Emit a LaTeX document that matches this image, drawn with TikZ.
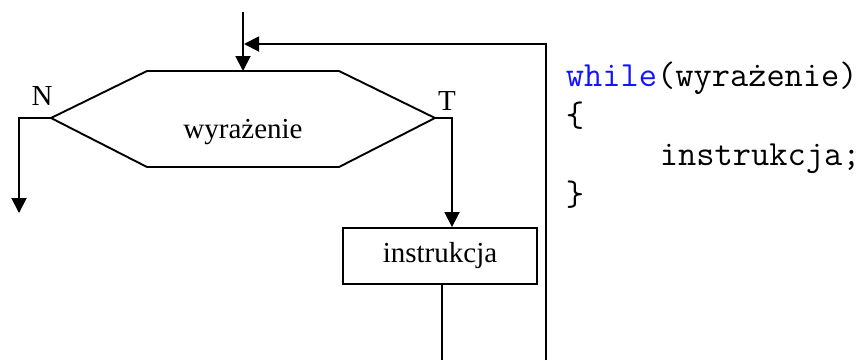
\documentclass[tikz,border=0pt]{standalone}
\usepackage{fontspec}
\setmainfont{Liberation Serif}
\usetikzlibrary{arrows.meta}
\definecolor{kwblue}{RGB}{20,20,255}
\begin{document}
\begin{tikzpicture}[x=1pt,y=-1pt,line width=1.9pt,
  arr/.style={-{Triangle[length=15pt,width=15pt]}},
  lbl/.style={font=\fontsize{29}{30}\selectfont,inner sep=0pt,anchor=base},
  codeline/.style={font=\ttfamily\fontsize{35.4}{36}\selectfont,inner sep=0pt,anchor=base west},
  procbox/.style={draw,minimum width=194pt,minimum height=56pt,inner sep=0pt,font=\fontsize{29}{30}\selectfont}]
\useasboundingbox (0,0) rectangle (866,360);
% hexagon (condition)
\coordinate (hl) at (51,118);
\coordinate (hr) at (435,118);
\coordinate (htl) at (147,71);
\coordinate (htr) at (339,71);
\coordinate (hbl) at (147,167);
\coordinate (hbr) at (339,167);
\coordinate (htop) at (243,71);
\draw[line join=miter] (hl) -- (htl) -- (htr) -- (hr) -- (hbr) -- (hbl) -- cycle;
\node[lbl] (cond) at (243,138) {wyrażenie};
% process box
\node[procbox] (instr) at (440,256) {instrukcja};
% labels
\node[lbl] (lN) at (42,105) {N};
\node[lbl] (lT) at (447,110) {T};
% entry arrow
\coordinate (entry) at (243,12);
\draw[arr] (entry) -- (htop);
% N branch
\coordinate (nc) at (19,118);
\coordinate (nend) at (19,213);
\draw[arr] (hl) -- (nc) -- (nend);
% T branch
\coordinate (tc) at (452,118);
\draw[arr] (hr) -- (tc) -- (instr.north -| tc);
% loop back
\coordinate (bout) at (442,360);
\draw (instr.south -| bout) -- (bout);
\coordinate (lb) at (546,360);
\coordinate (lt) at (546,44);
\coordinate (lend) at (244,44);
\draw[arr] (lb) -- (lt) -- (lend);
% code
\node[codeline] (c1) at (565,86) {\textcolor{kwblue}{while}(wyrażenie)};
\node[codeline] (c2) at (565,126) {\{};
\node[codeline] (c3) at (659,165) {instrukcja;};
\node[codeline] (c4) at (565,205) {\}};
\end{tikzpicture}
\end{document}
